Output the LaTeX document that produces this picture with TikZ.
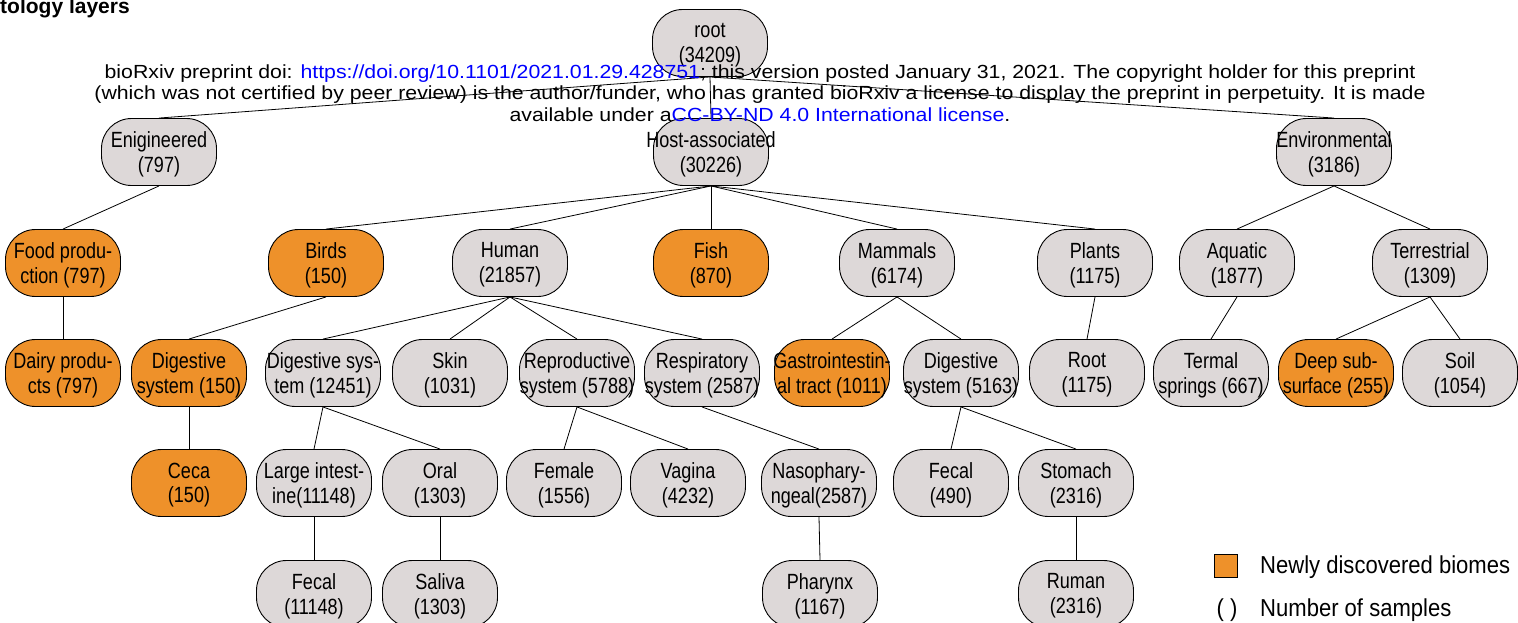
\documentclass[tikz,border=0pt]{standalone}
\usepackage{fontspec}
\setmainfont{Liberation Sans}
\newfontfamily\narrowsans[FakeStretch=0.82]{Liberation Sans}
\newfontfamily\keysans[FakeStretch=0.9]{Liberation Sans}
\newfontfamily\widesans[FakeStretch=1.12]{Liberation Sans}
\definecolor{boxgray}{HTML}{DDD8D8}
\definecolor{neworange}{HTML}{EE912A}
\definecolor{linkblue}{HTML}{0000FF}
% box shape plus its centred label (label may overflow the box)
\newcommand\Bnode[5]{%
  \node[#1] (#2) at (#3,#4) {};
  \node[lbl] (#2-t) at ([yshift=-2pt]#2.center) {#5};}
\begin{document}
\begin{tikzpicture}[x=1pt,y=-1pt,
  biome/.style={draw=black, line width=0.9pt, rounded corners=30pt,
    minimum width=115pt, minimum height=67pt, inner sep=0pt, fill=boxgray},
  newbiome/.style={biome, fill=neworange},
  lbl/.style={inner sep=0pt, align=center,
    font=\narrowsans\fontsize{22}{24.7}\selectfont},
  link/.style={draw=black, line width=0.8pt},
  hdr/.style={anchor=base, inner sep=0pt, font=\widesans\fontsize{19}{21.5}\selectfont},
  legend/.style={anchor=base west, inner sep=0pt,
    font=\keysans\fontsize{24.5}{26}\selectfont}]
\useasboundingbox (0,0) rectangle (1518,622);

% title fragment
\node[anchor=base west, inner sep=0pt, font=\bfseries\fontsize{21}{21}\selectfont]
  (title) at (0,13) {tology layers};

% level 0
\Bnode{biome}{root}{710}{43}{root\\(34209)}
% level 1
\Bnode{biome}{eng}{159}{152}{Enigineered\\(797)}
\Bnode{biome}{host}{711}{152}{Host-associated\\(30226)}
\Bnode{biome}{env}{1334}{152}{Environmental\\(3186)}
% level 2
\Bnode{newbiome}{food}{63}{263}{Food produ-\\ction (797)}
\Bnode{newbiome}{birds}{326}{263}{Birds\\(150)}
\Bnode{biome}{human}{510}{263}{Human\\(21857)}
\Bnode{newbiome}{fish}{711}{263}{Fish\\(870)}
\Bnode{biome}{mammals}{897}{263}{Mammals\\(6174)}
\Bnode{biome}{plants}{1095}{263}{Plants\\(1175)}
\Bnode{biome}{aquatic}{1237}{263}{Aquatic\\(1877)}
\Bnode{biome}{terr}{1430}{263}{Terrestrial\\(1309)}
% level 3
\Bnode{newbiome}{dairy}{63}{373}{Dairy produ-\\cts (797)}
\Bnode{newbiome}{digb}{189}{373}{Digestive\\system (150)}
\Bnode{biome}{digh}{323}{373}{Digestive sys-\\tem (12451)}
\Bnode{biome}{skin}{450}{373}{Skin\\(1031)}
\Bnode{biome}{repro}{577}{373}{Reproductive\\system (5788)}
\Bnode{biome}{resp}{702}{373}{Respiratory\\system (2587)}
\Bnode{newbiome}{gastro}{832}{373}{Gastrointestin-\\al tract (1011)}
\Bnode{biome}{digm}{961}{373}{Digestive\\system (5163)}
\Bnode{biome}{plroot}{1087}{373}{Root\\(1175)}
\Bnode{biome}{termal}{1211}{373}{Termal\\springs (667)}
\Bnode{newbiome}{deep}{1336}{373}{Deep sub-\\surface (255)}
\Bnode{biome}{soil}{1460}{373}{Soil\\(1054)}
% level 4
\Bnode{newbiome}{ceca}{189}{483}{Ceca\\(150)}
\Bnode{biome}{large}{314}{483}{Large intest-\\ine(11148)}
\Bnode{biome}{oral}{440}{483}{Oral\\(1303)}
\Bnode{biome}{female}{564}{483}{Female\\(1556)}
\Bnode{biome}{vagina}{688}{483}{Vagina\\(4232)}
\Bnode{biome}{naso}{819}{483}{Nasophary-\\ngeal(2587)}
\Bnode{biome}{fecalm}{951}{483}{Fecal\\(490)}
\Bnode{biome}{stomach}{1076}{483}{Stomach\\(2316)}
% level 5
\Bnode{biome}{fecalh}{314}{594}{Fecal\\(11148)}
\Bnode{biome}{saliva}{440}{594}{Saliva\\(1303)}
\Bnode{biome}{pharynx}{820}{594}{Pharynx\\(1167)}
\Bnode{biome}{ruman}{1076}{594}{Ruman\\(2316)}

% tree edges
\foreach \p/\c in {root/eng, root/host, root/env,
    eng/food, host/birds, host/human, host/fish, host/mammals, host/plants,
    env/aquatic, env/terr,
    food/dairy, birds/digb, human/digh, human/skin, human/repro, human/resp,
    mammals/gastro, mammals/digm, plants/plroot, aquatic/termal,
    terr/deep, terr/soil,
    digb/ceca, digh/large, digh/oral, repro/female, repro/vagina,
    resp/naso, digm/fecalm, digm/stomach,
    large/fecalh, oral/saliva, naso/pharynx, stomach/ruman}
  \draw[link] (\p.south) -- (\c.north);

% legend
\node[draw=black, line width=0.9pt, fill=neworange, minimum size=23pt, inner sep=0pt]
  (legsq) at (1226,565.5) {};
\node[legend] (legnew) at (1260,573) {Newly discovered biomes};
\node[anchor=base, inner sep=0pt, font=\keysans\fontsize{24.5}{26}\selectfont]
  (legpar) at (1227,616) {( )};
\node[legend] (legnum) at (1260,616) {Number of samples};

% preprint header stamped over the figure
\node[hdr] (hdr1) at (760,78) {bioRxiv preprint doi: \textcolor{linkblue}{https://doi.org/10.1101/2021.01.29.428751}; this version posted January 31, 2021. The copyright holder for this preprint};
\node[hdr] (hdr2) at (760,99.5) {(which was not certified by peer review) is the author/funder, who has granted bioRxiv a license to display the preprint in perpetuity. It is made};
\node[hdr] (hdr3) at (760,121) {available under a\textcolor{linkblue}{CC-BY-ND 4.0 International license}.};
\end{tikzpicture}
\end{document}
